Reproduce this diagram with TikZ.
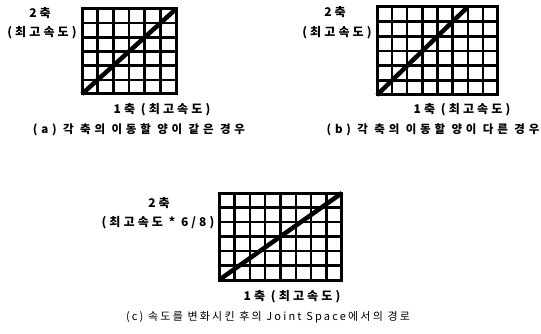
\documentclass[tikz,border=0pt]{standalone}
\usepackage{fontspec}
\newfontfamily\kr{Noto Sans CJK KR}[LetterSpace=26]
\newfontfamily\krcapab{Noto Sans CJK KR}[LetterSpace=33]
\newfontfamily\krcap{Noto Sans CJK KR}[LetterSpace=20]
\usepackage{tikz}
\usetikzlibrary{positioning}

\tikzset{
  lbl/.style={font=\kr\bfseries\fontsize{12}{14}\selectfont, inner sep=0pt},
  captext/.style={font=\krcapab\bfseries\fontsize{11.5}{13}\selectfont, inner sep=0pt},
  captextc/.style={font=\krcap\fontsize{11}{13}\selectfont, inner sep=0pt},
  gridline/.style={line width=2.4pt},
  frameline/.style={line width=3pt},
  pathline/.style={line width=4.5pt}
}

\begin{document}
\begin{tikzpicture}[x=1pt, y=-1pt]
  \useasboundingbox (0,0) rectangle (541,334);

  % (a) 6 x 6
  \begin{scope}[shift={(82,94)}, x=15.67pt, y=14.17pt]
    \foreach \i in {1,...,5} \draw[gridline] (\i,0) -- (\i,6);
    \foreach \j in {1,...,5} \draw[gridline] (0,\j) -- (6,\j);
    \draw[frameline] (0,0) rectangle (6,6);
    \draw[pathline] (0,0) -- (6,6);
  \end{scope}
  \node[lbl] (a2) at (40,13) {2축};
  \node[lbl] (a2v) at (42,33) {(최고속도)};
  \node[lbl] (a1) at (162,110) {1축 (최고속도)};
  \node[captext] (acap) at (139,130) {(a) 각 축의 이동할 양이 같은 경우};

  % (b) 8 x 6
  \begin{scope}[shift={(377,95)}, x=15.12pt, y=14.67pt]
    \foreach \i in {1,...,7} \draw[gridline] (\i,0) -- (\i,6);
    \foreach \j in {1,...,5} \draw[gridline] (0,\j) -- (8,\j);
    \draw[frameline] (0,0) rectangle (8,6);
    \draw[pathline] (0,0) -- (6,6);
  \end{scope}
  \node[lbl] (b2) at (335,12) {2축};
  \node[lbl] (b2v) at (337,33) {(최고속도)};
  \node[lbl] (b1) at (462,110) {1축 (최고속도)};
  \node[captext] (bcap) at (433,130) {(b) 각 축의 이동할 양이 다른 경우};

  % (c) 8 x 6, axis 2 slowed down
  \begin{scope}[shift={(219,280)}, x=15.37pt, y=14.5pt]
    \foreach \i in {1,...,7} \draw[gridline] (\i,0) -- (\i,6);
    \foreach \j in {1,...,5} \draw[gridline] (0,\j) -- (8,\j);
    \draw[frameline] (0,0) rectangle (8,6);
    \draw[pathline] (0,0) -- (8,6);
  \end{scope}
  \node[lbl] (c2) at (159,203) {2축};
  \node[lbl] (c2v) at (158,223) {(최고속도 * 6/8)};
  \node[lbl] (c1) at (292,297) {1축 (최고속도)};
  \node[captextc] (ccap) at (268,317) {(c) 속도를 변화시킨 후의 Joint Space에서의 경로};
\end{tikzpicture}
\end{document}
